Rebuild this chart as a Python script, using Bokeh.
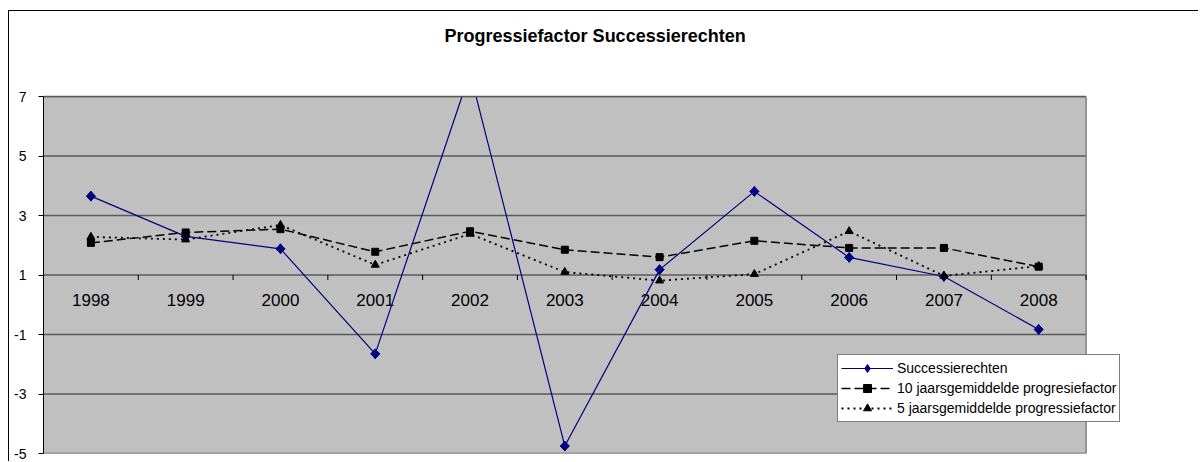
import math
from bokeh.plotting import figure
from bokeh.models import Range1d, FixedTicker, Legend, LegendItem, ColumnDataSource
from bokeh.core.properties import value
from bokeh.embed import file_html
from bokeh.resources import INLINE

years = ["1998", "1999", "2000", "2001", "2002", "2003", "2004", "2005", "2006", "2007", "2008"]
successierechten = [3.65, 2.30, 1.88, -1.65, 7.8, -4.75, 1.18, 3.81, 1.59, 0.95, -0.83]
tien_jaars = [2.08, 2.43, 2.54, 1.78, 2.47, 1.85, 1.60, 2.15, 1.91, 1.91, 1.28]
vijf_jaars = [2.28, 2.19, 2.68, 1.34, 2.38, 1.10, 0.81, 1.03, 2.47, 0.97, 1.30]
y_ticks = [-5, -3, -1, 1, 3, 5, 7]
title_text = "Progressiefactor Successierechten"
labels = ["Successierechten", "10 jaarsgemiddelde progresiefactor", "5 jaarsgemiddelde progressiefactor"]

FONT = "Liberation Sans"
n = len(years)
xs = [i + 0.5 for i in range(n)]
ymin, ymax = min(y_ticks), max(y_ticks)

# layout constants (pixels)
H, TOP, BOTTOM = 451, 5, 9
PX_PER_UNIT = 29.75
frame_h = H - TOP - BOTTOM
y_top = ymin + frame_h / PX_PER_UNIT      # frame reaches up into the title area

p = figure(width=1190, height=H, output_backend="svg", toolbar_location=None,
           x_range=Range1d(0, n + 0.5), y_range=Range1d(ymin, y_top),
           x_axis_location=None, min_border_left=34, min_border_right=66,
           min_border_top=TOP, min_border_bottom=BOTTOM)
p.styles = {"border-top": "1px solid black", "border-left": "1px solid black",
            "margin-top": "10px", "margin-left": "8px"}

p.background_fill_color = "white"
p.border_fill_color = "white"
p.outline_line_color = None
p.xgrid.visible = False
p.ygrid.visible = False

# plot area (grey) with its grid and border
p.quad(left=[0], right=[n], bottom=[ymin], top=[ymax], fill_color="#C0C0C0", line_color=None)
p.segment(x0=[0] * len(y_ticks), y0=y_ticks, x1=[n] * len(y_ticks), y1=y_ticks,
          line_color="#5a5a5a", line_width=1.5)
p.segment(x0=[n], y0=[ymin], x1=[n], y1=[ymax], line_color="#808080", line_width=1.5)

ya = p.yaxis[0]
ya.ticker = FixedTicker(ticks=y_ticks)
ya.bounds = (ymin, ymax)
ya.major_label_overrides = {t: str(t) for t in y_ticks}
ya.major_tick_out = 5
ya.major_tick_in = 0
ya.minor_tick_out = 0
ya.minor_tick_in = 0
ya.major_label_standoff = 12
ya.major_label_text_font = FONT
ya.major_label_text_font_size = "14px"
ya.major_label_text_color = "black"
ya.axis_line_color = "black"
ya.major_tick_line_color = "black"

# category axis drawn at y = 1
tick_x = list(range(1, n + 1))
p.segment(x0=tick_x, y0=[1] * len(tick_x), x1=tick_x, y1=[1 - 5 / PX_PER_UNIT] * len(tick_x),
          line_color="black", line_width=1)
p.text(x=xs, y=[1 - 25 / PX_PER_UNIT] * n, text=years, text_align="center",
       text_baseline="middle", text_font=value(FONT), text_font_size="17px", text_color="black")

src = ColumnDataSource(dict(x=xs, s=successierechten, t=tien_jaars, v=vijf_jaars))

l1 = p.line("x", "s", source=src, line_color="#000080", line_width=1.2)
# diamond used by the legend (legend glyphs ignore angle); the rotated square covers it
m1_leg = p.scatter("x", "s", source=src, marker="diamond", size=10, fill_color="#000080", line_color="#000080")
m1 = p.scatter("x", "s", source=src, marker="square", angle=math.pi / 4, size=6.5,
               fill_color="#000080", line_color="#000080")
l2 = p.line("x", "t", source=src, line_color="black", line_width=1.5, line_dash="9 4")
m2 = p.scatter("x", "t", source=src, marker="square", size=7, fill_color="black", line_color="black")
l3 = p.line("x", "v", source=src, line_color="black", line_width=1.8, line_dash="2 4")
m3 = p.scatter("x", "v", source=src, marker="triangle", size=8, fill_color="black", line_color="black")

# white area above the plot area (clips the series at the top value) and the title
p.quad(left=[-1], right=[n + 1], bottom=[ymax], top=[y_top + 1], fill_color="white", line_color=None)
p.segment(x0=[0], y0=[ymax], x1=[n], y1=[ymax], line_color="#5a5a5a", line_width=1.5)
p.text(x=[n / 2 + 0.32], y=[ymax + 61 / PX_PER_UNIT], text=[title_text], text_align="center",
       text_baseline="middle", text_font=value(FONT), text_font_size="18px",
       text_font_style="bold", text_color="black")

legend = Legend(items=[LegendItem(label=labels[0], renderers=[l1, m1_leg]),
                       LegendItem(label=labels[1], renderers=[l2, m2]),
                       LegendItem(label=labels[2], renderers=[l3, m3])],
                location=(794, 31))
legend.padding = 3
legend.spacing = 0
legend.margin = 0
legend.label_height = 20
legend.glyph_height = 20
legend.glyph_width = 52
legend.label_standoff = 4
legend.label_text_font = FONT
legend.label_text_font_size = "14px"
legend.label_text_color = "black"
legend.border_line_color = "black"
legend.border_line_width = 1
legend.background_fill_color = "white"
legend.background_fill_alpha = 1
p.add_layout(legend, "center")

open("out.html", "w").write(file_html(p, INLINE))
